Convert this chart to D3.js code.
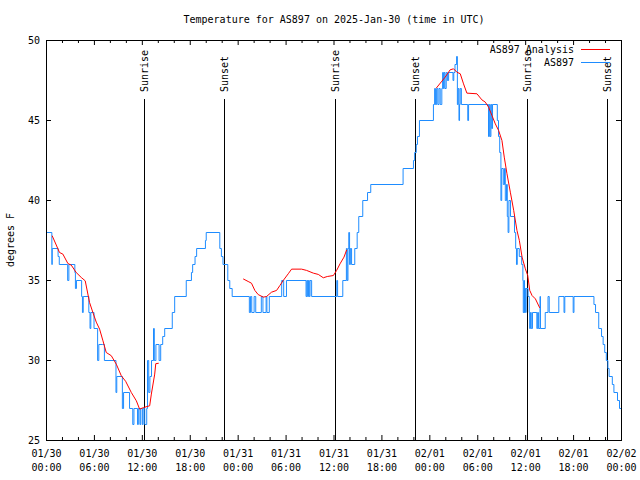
<!DOCTYPE html>
<html><head><meta charset="utf-8">
<script src="https://cdn.jsdelivr.net/npm/d3@7"></script>
<style>
body{margin:0;background:#fff;}
svg{display:block;font-family:"DejaVu Sans Mono","Liberation Mono",monospace;font-size:10px;}
</style></head><body>
<svg id="chart" width="640" height="480"></svg>
<script>
const chartTitle = "Temperature for AS897 on 2025-Jan-30 (time in UTC)";
const yAxisLabel = "degrees F";
const yTickValues = [25, 30, 35, 40, 45, 50];
const xTickHours = [0, 6, 12, 18, 24, 30, 36, 42, 48, 54, 60, 66, 72];
const xTickDates = ["01/30","01/30","01/30","01/30","01/31","01/31","01/31","01/31","02/01","02/01","02/01","02/01","02/02"];
const xTickTimes = ["00:00","06:00","12:00","18:00","00:00","06:00","12:00","18:00","00:00","06:00","12:00","18:00","00:00"];
const xMinorHours = [2,4,8,10,14,16,20,22,26,28,32,34,38,40,44,46,50,52,56,58,62,64,68,70];
const sunriseHours = [12.3, 36.25, 60.2];
const sunsetHours = [22.25, 46.2, 70.3];
const seriesNames = ["AS897 Analysis", "AS897"];

// observed temperature: [hours since 01/30 00:00 UTC, deg F]
const obsPoints = [
[0,38],[0.67,36],[0.72,37],[1.45,36.5],[1.6,36],[2.65,35],[2.8,36],[3.55,35.5],[3.62,34.5],[3.75,35],
[4.4,34],[4.5,33],[4.6,34],[5.3,33],[5.45,32],[5.55,33],[5.95,32],[6.4,30],[6.55,31],[7.0,31],[7.25,30],
[8.7,28],[8.8,29],[9.5,27],[9.65,28],[10.4,27],[10.8,26],[10.95,27],[11.4,26],[11.5,27],[11.7,26],[11.8,27],
[12.0,26],[12.1,27],[12.3,26],[12.55,27],[12.65,30],[12.8,28],[12.95,29],[13.15,30],[13.4,32],[13.5,30],
[13.7,31],[14.1,30],[14.3,31],[14.55,31.5],[14.8,32],[15.75,33],[16.05,34],[17.5,35],[18.15,35.5],[18.3,36],
[18.6,36.5],[18.8,37],[19.9,37.5],[20.0,38],[21.7,37],[21.9,36.5],[22.1,36],[22.7,35],[22.95,34.5],[23.25,34],
[25.4,33],[25.55,34],[25.7,33],[26.0,34],[26.2,33],[26.9,34],[27.1,33],[27.5,34],[27.6,33],[27.9,34],
[29.45,35],[29.7,34],[30.05,35],[32.5,34],[32.6,35],[32.7,34],[32.8,35],[32.9,34],[33.0,35],[33.2,34],
[36.35,35],[36.45,34],[37.1,35],[37.55,37],[37.65,35],[37.75,37],[37.85,38],[37.95,36],[38.05,37],[38.2,36],
[38.6,37],[38.9,38],[39.1,39],[39.6,40],[40.2,40.5],[40.6,41],[44.65,42],
[45.95,42.5],[46.1,43],[46.3,43.5],[46.45,44],[46.7,45],[48.45,46],[48.6,47],[48.7,46],[48.85,47],[49.0,46],
[49.15,47],[49.3,46],[49.5,47],[49.6,48],[49.7,47],[49.8,48],[49.9,47],[50.05,48],[50.2,47.5],[50.35,48],
[50.9,47.5],[51.0,48],[51.15,48.5],[51.35,49],[51.45,46],[51.55,47],[51.65,45],[51.72,46],[51.8,47],[51.95,46],
[52.75,45],[52.85,46],[55.35,44],[55.45,46],[55.55,44],[55.65,46],[55.75,44.5],[55.85,46],[56.45,45],[56.6,44],
[56.75,43],[56.9,40],[57.0,42],[57.2,41],[57.35,42],[57.45,40],[57.6,41],[57.7,39],[57.8,38],[57.9,40],
[58.1,39],[58.6,38],[58.75,37],[58.85,36],[58.95,37],[59.2,36.5],[59.5,36],[59.65,35],[59.7,33],[59.8,35],
[59.85,33],[59.9,34.5],[60.0,33],[60.05,34.5],[60.3,34],[60.45,33],[60.5,32],[60.6,33],[60.7,32],[60.85,33],
[61.4,32],[61.5,33],[61.6,32],[61.8,34],[61.85,32],[62.45,33],[62.8,34],[62.95,33],[64.15,34],[64.8,33],
[64.9,34],[65.95,33],[66.05,34],[68.55,33.5],[68.75,33],[69.15,32],[69.5,31.5],[69.7,31],[69.9,30.5],[70.1,30],
[70.3,29.5],[70.45,29],[70.85,28.5],[71.05,28],[71.5,27.5],[71.75,27],[72,27]
];

// analysis temperature, three segments
const analysisNight1 = [
[0.71,37.8],[1.63,36.75],[2.05,36.65],[2.68,36.06],[3.1,35.96],[3.72,35.5],[4.35,35.19],[4.85,34.98],
[5.39,33.63],[5.81,33],[6.23,32.4],[6.65,31.96],[7.07,31.23],[7.48,30.5],[8.11,30.3],[8.74,29.77],
[9.37,29.04],[9.91,28.7],[10.62,28],[11.25,27.48],[11.66,26.96],[12.17,27.06],[12.92,27.17],[13.13,27.9],
[13.55,29.15],[13.68,29.8],[14.05,29.83]
];
const analysisNight2 = [
[24.63,35.1],[25.25,34.94],[25.67,34.83],[26.09,34.38],[26.51,34.12],[27.14,33.96],[27.55,34],[28.18,34.27],
[28.81,34.38],[29.23,34.69],[29.64,35],[30.27,35.42],[30.69,35.71],[31.94,35.71],[32.57,35.63],[33.41,35.46],
[34.03,35.38],[34.66,35.17],[35.16,35.25],[35.92,35.31],[36.33,35.63],[36.75,36.04],[37.25,36.46],[37.59,36.92]
];
const analysisNight3 = [
[48.8,47.02],[49.51,47.46],[49.92,47.71],[50.55,48.17],[50.97,48.23],[51.39,48.02],[51.81,47.92],[52.22,47.29],
[52.64,46.71],[53.9,46.67],[54.52,46.29],[54.94,46.15],[55.36,45.83],[55.78,45.31],[56.2,44.79],[56.61,44.38],
[57.03,43.75],[57.32,42.71],[57.66,41.67],[58.08,40.52],[58.5,39.38],[58.91,38.13],[59.21,37.5],[59.55,36.46],
[59.96,35.73],[60.26,35.31],[60.51,34.38],[60.8,34.06],[61.22,33.85],[61.76,33.29]
];

const obsColor = "#1e8cff";
const anaColor = "#ff0000";

const svg = d3.select("#chart");
const x = d3.scaleLinear().domain([0, 72]).range([46, 621]);
const y = d3.scaleLinear().domain([25, 50]).range([440, 40]);

// sun lines
const sunEvents = sunriseHours.map(h => ({h, label: "Sunrise"}))
  .concat(sunsetHours.map(h => ({h, label: "Sunset"})));
const sunG = svg.append("g");
sunEvents.forEach(e => {
  const px = Math.round(x(e.h)) + 0.5;
  sunG.append("line").attr("x1", px).attr("x2", px).attr("y1", 99).attr("y2", 440)
    .attr("stroke", "#000").attr("stroke-width", 1);
  sunG.append("text").attr("transform", `translate(${px},92) rotate(-90)`)
    .attr("dy", "0.35em").attr("text-anchor", "start").text(e.label);
});

// data
const dataG = svg.append("g").attr("transform", "translate(0.5,0.5)");
const stepLine = d3.line().x(d => x(d[0])).y(d => y(d[1])).curve(d3.curveStepAfter);
const anaLine = d3.line().x(d => x(d[0])).y(d => y(d[1]));
dataG.append("path").attr("d", stepLine(obsPoints)).attr("fill", "none")
  .attr("stroke", obsColor).attr("stroke-width", 1);
[analysisNight1, analysisNight2, analysisNight3].forEach(seg => {
  dataG.append("path").attr("d", anaLine(seg)).attr("fill", "none")
    .attr("stroke", anaColor).attr("stroke-width", 1);
});

// axes
function clean(g) { g.select(".domain").remove(); }
svg.append("g").attr("transform", "translate(0,440)")
  .call(d3.axisBottom(x).tickValues(xTickHours).tickSizeInner(-5).tickSizeOuter(0).tickFormat(""))
  .call(clean);
svg.append("g").attr("transform", "translate(0,440)")
  .call(d3.axisBottom(x).tickValues(xMinorHours).tickSizeInner(-3).tickSizeOuter(0).tickFormat(""))
  .call(clean);
svg.append("g").attr("transform", "translate(0,40)")
  .call(d3.axisTop(x).tickValues(xTickHours).tickSizeInner(-5).tickSizeOuter(0).tickFormat(""))
  .call(clean);
svg.append("g").attr("transform", "translate(0,40)")
  .call(d3.axisTop(x).tickValues(xMinorHours).tickSizeInner(-3).tickSizeOuter(0).tickFormat(""))
  .call(clean);
svg.append("g").attr("transform", "translate(46,0)")
  .call(d3.axisLeft(y).tickValues(yTickValues).tickSizeInner(-5).tickSizeOuter(0).tickPadding(6))
  .call(clean)
  .call(g => g.selectAll("text").attr("fill", "#000"));
svg.append("g").attr("transform", "translate(621,0)")
  .call(d3.axisRight(y).tickValues(yTickValues).tickSizeInner(-5).tickSizeOuter(0).tickFormat(""))
  .call(clean);
svg.selectAll("g").attr("font-family", null).attr("font-size", null);

// x tick labels (two lines)
const xl = svg.append("g").attr("text-anchor", "middle");
xTickHours.forEach((h, i) => {
  const px = x(h) + 0.5;
  xl.append("text").attr("x", px).attr("y", 457).text(xTickDates[i]);
  xl.append("text").attr("x", px).attr("y", 471).text(xTickTimes[i]);
});

// border
svg.append("rect").attr("x", 46.5).attr("y", 40.5).attr("width", 575).attr("height", 400)
  .attr("fill", "none").attr("stroke", "#000").attr("stroke-width", 1);

// title and y label
svg.append("text").attr("x", 334).attr("y", 23).attr("text-anchor", "middle").text(chartTitle);
svg.append("text").attr("transform", "translate(13.5,240) rotate(-90)")
  .attr("text-anchor", "middle").text(yAxisLabel);

// legend
const legendColors = [anaColor, obsColor];
const leg = svg.append("g");
seriesNames.forEach((name, i) => {
  const by = 53 + i * 13;
  leg.append("text").attr("x", 574).attr("y", by).attr("text-anchor", "end").text(name);
  leg.append("line").attr("x1", 581).attr("x2", 610).attr("y1", by - 3.5).attr("y2", by - 3.5)
    .attr("stroke", legendColors[i]).attr("stroke-width", 1);
});
</script>
</body></html>
